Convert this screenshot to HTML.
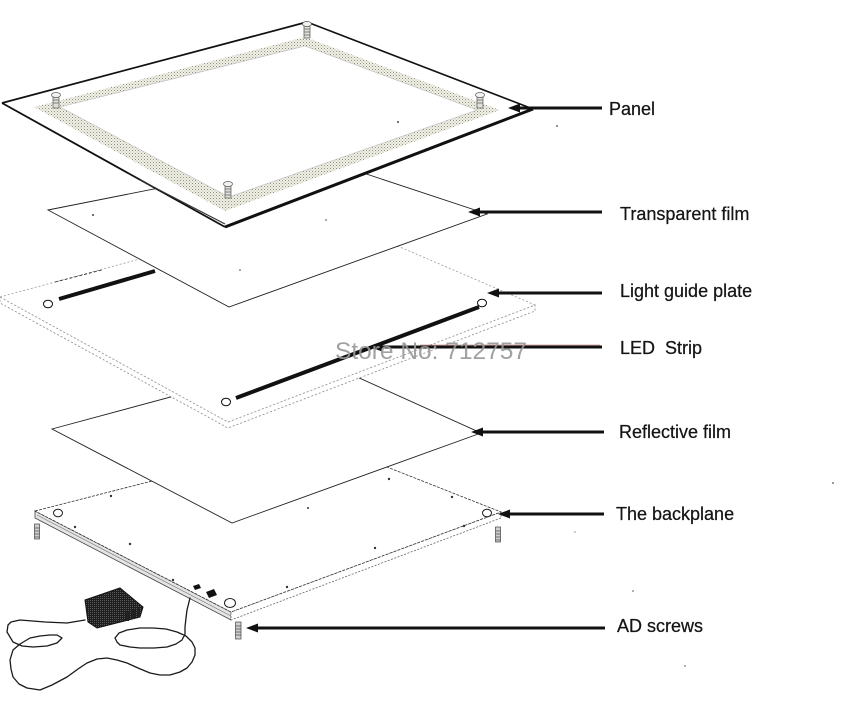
<!DOCTYPE html>
<html>
<head>
<meta charset="utf-8">
<style>
  html,body{margin:0;padding:0;background:#fff;}
  svg{display:block;}
  .lbl{font-family:"Liberation Sans",Arial,sans-serif;font-size:18px;fill:#151515;stroke:#151515;stroke-width:0.25;}
</style>
</head>
<body>
<svg width="864" height="702" viewBox="0 0 864 702" xmlns="http://www.w3.org/2000/svg">
  <defs>
    <pattern id="band" width="3" height="3" patternUnits="userSpaceOnUse">
      <rect width="3" height="3" fill="#f1f0e4"/>
      <rect x="0" y="0" width="1" height="1" fill="#8e8e86"/>
      <rect x="1.5" y="1.5" width="1" height="1" fill="#b4b4aa"/>
    </pattern>
    <pattern id="adp" width="2" height="2" patternUnits="userSpaceOnUse">
      <rect width="2" height="2" fill="#1e1e1e"/>
      <rect x="0" y="0" width="1" height="1" fill="#5a5a5a"/>
    </pattern>
  </defs>
  <rect width="864" height="702" fill="#fff"/>

  <!-- ===== Backplane ===== -->
  <polygon points="35,511 231,612 231,620 35,518" fill="#e4e4e4" stroke="#444" stroke-width="0.8"/>
  <line x1="37" y1="515" x2="231" y2="616" stroke="#777" stroke-width="0.6"/>
  <polygon points="231,612 501,512 501,518 231,620" fill="#fff" stroke="#666" stroke-width="0.8" stroke-dasharray="2,1.5"/>
  <polygon points="35,511 316,439 501,512 231,612" fill="#fff" stroke="#333" stroke-width="0.8" stroke-dasharray="3,1.2"/>
  <!-- holes -->
  <ellipse cx="58" cy="513" rx="4.5" ry="3.8" fill="#fff" stroke="#222" stroke-width="1"/>
  <ellipse cx="487" cy="513" rx="4.5" ry="3.8" fill="#fff" stroke="#222" stroke-width="1"/>
  <ellipse cx="230" cy="603" rx="5.5" ry="4.5" fill="#fff" stroke="#222" stroke-width="1"/>
  <!-- dots -->
  <g fill="#333">
    <circle cx="111" cy="496" r="1.2"/><circle cx="75" cy="527" r="1.2"/>
    <circle cx="130" cy="544" r="1.2"/><circle cx="173" cy="580" r="1.2"/>
    <circle cx="287" cy="587" r="1.2"/><circle cx="375" cy="548" r="1.2"/>
    <circle cx="464" cy="526" r="1.2"/><circle cx="452" cy="497" r="1.2"/>
    <circle cx="389" cy="479" r="1.2"/><circle cx="308" cy="508" r="1"/>
  </g>
  <!-- small switches -->
  <polygon points="193,586 199,584 201,588 195,590" fill="#111"/>
  <polygon points="206,592 214,589 217,595 209,598" fill="#111"/>
  <!-- screws under backplane -->
  <g stroke="#444" stroke-width="0.7" fill="#cfcfcf">
    <rect x="34.5" y="524" width="5" height="15"/>
    <line x1="34.5" y1="528" x2="39.5" y2="528"/><line x1="34.5" y1="531" x2="39.5" y2="531"/>
    <line x1="34.5" y1="534" x2="39.5" y2="534"/><line x1="34.5" y1="537" x2="39.5" y2="537"/>
    <rect x="495.5" y="527" width="5" height="15"/>
    <line x1="495.5" y1="531" x2="500.5" y2="531"/><line x1="495.5" y1="534" x2="500.5" y2="534"/>
    <line x1="495.5" y1="537" x2="500.5" y2="537"/><line x1="495.5" y1="540" x2="500.5" y2="540"/>
    <rect x="235.5" y="622" width="5.5" height="17"/>
    <line x1="235.5" y1="626" x2="241" y2="626"/><line x1="235.5" y1="629" x2="241" y2="629"/>
    <line x1="235.5" y1="632" x2="241" y2="632"/><line x1="235.5" y1="635" x2="241" y2="635"/>
  </g>

  <!-- adapter -->
  <polygon points="85,600 120,588 143,607 140,617 97,628 88,622" fill="url(#adp)" stroke="#111" stroke-width="1"/>
  <g fill="#222"><rect x="126" y="612" width="3" height="9"/><rect x="132" y="610" width="3" height="9"/><rect x="137" y="608" width="3" height="9"/></g>
  <!-- cable -->
  <polyline fill="none" stroke="#1a1a1a" stroke-width="1.3" stroke-linejoin="round" stroke-linecap="round"
    points="85,620 67,623 45,622 20,620 11,622 8,625 7,632 13,642 22,646 33,647 47,646 57,643 62,638 57,635 50,635 40,636 30,638 20,644 13,650 10,660 11,669 13,677 19,684 27,688 40,690 52,685 67,677 78,669 87,663 97,659 107,658 117,660 127,663 138,668 150,673 160,675 170,675 180,672 187,668 192,662 195,655 195,648 192,642 186,636 177,632 166,629 153,628 140,628 127,630 119,633 115,638 117,642 120,645 130,647 140,648 154,648 167,647 176,644 182,640 185,634 185,627 186,618 187,610 190,598"/>

  <!-- ===== Reflective film ===== -->
  <polygon points="52,429 315,358 481,433 232,523" fill="#fff" stroke="#222" stroke-width="0.9"/>

  <!-- ===== Light guide plate ===== -->
  <polygon points="0,297 228,422 535,305 535,311 228,428 0,303" fill="#fff" stroke="#888" stroke-width="0.8" stroke-dasharray="2,2"/>
  <polygon points="0,297 316,211 535,305 228,422" fill="#fff" stroke="#999" stroke-width="0.8" stroke-dasharray="2,2"/>
  <line x1="55" y1="282" x2="102" y2="270" stroke="#333" stroke-width="0.9" stroke-dasharray="3,2"/>
  <!-- LED strips -->
  <line x1="59" y1="299" x2="155" y2="271" stroke="#111" stroke-width="4"/>
  <line x1="236" y1="398" x2="479" y2="307" stroke="#111" stroke-width="4"/>
  <ellipse cx="48" cy="304" rx="4.5" ry="3.8" fill="#fff" stroke="#111" stroke-width="1"/>
  <ellipse cx="226" cy="402" rx="4.5" ry="3.8" fill="#fff" stroke="#111" stroke-width="1"/>
  <ellipse cx="482" cy="303" rx="4.5" ry="3.8" fill="#fff" stroke="#111" stroke-width="1"/>

  <!-- ===== Transparent film ===== -->
  <polygon points="48,210 315,157 487,214 229,307" fill="#fff" stroke="#222" stroke-width="0.9"/>
  <g fill="#444"><circle cx="93" cy="215" r="1"/><circle cx="240" cy="270" r="0.8"/><circle cx="326" cy="220" r="0.8"/></g>

  <!-- ===== Panel ===== -->
  <polygon points="2,103 307,22 533,109 225,227" fill="#fff"/>
  <polygon points="34,107 305,37 500,110 225,211" fill="url(#band)"/>
  <polygon points="60,107 305,46 477,110 229,197" fill="#fff" stroke="#bbb" stroke-width="0.6"/>
  <line x1="2" y1="103" x2="307" y2="22" stroke="#111" stroke-width="1.7"/>
  <line x1="307" y1="22" x2="533" y2="109" stroke="#111" stroke-width="1.6"/>
  <line x1="533" y1="109" x2="225" y2="227" stroke="#111" stroke-width="3"/>
  <line x1="2" y1="103" x2="225" y2="227" stroke="#111" stroke-width="1.8"/>
  <line x1="140" y1="180" x2="225" y2="224" stroke="#333" stroke-width="1.2"/>
  <g fill="#444"><circle cx="398" cy="122" r="1"/><circle cx="557" cy="126" r="0.9"/></g>
  <!-- panel screws -->
  <g stroke="#555" stroke-width="0.7">
    <rect x="304" y="24" width="6" height="14" fill="#e0e0da"/>
    <line x1="304" y1="29" x2="310" y2="29"/><line x1="304" y1="32" x2="310" y2="32"/><line x1="304" y1="35" x2="310" y2="35"/>
    <ellipse cx="307" cy="24" rx="4.5" ry="2.5" fill="#f2f2f2"/>
    <rect x="53" y="95" width="6" height="13" fill="#e0e0da"/>
    <line x1="53" y1="100" x2="59" y2="100"/><line x1="53" y1="103" x2="59" y2="103"/>
    <ellipse cx="56" cy="95" rx="4.5" ry="2.5" fill="#f2f2f2"/>
    <rect x="477" y="95" width="6" height="13" fill="#e0e0da"/>
    <line x1="477" y1="100" x2="483" y2="100"/><line x1="477" y1="103" x2="483" y2="103"/>
    <ellipse cx="480" cy="95" rx="4.5" ry="2.5" fill="#f2f2f2"/>
    <rect x="225" y="184" width="6" height="14" fill="#e0e0da"/>
    <line x1="225" y1="189" x2="231" y2="189"/><line x1="225" y1="192" x2="231" y2="192"/><line x1="225" y1="195" x2="231" y2="195"/>
    <ellipse cx="228" cy="184" rx="4.5" ry="2.5" fill="#f2f2f2"/>
  </g>

  <!-- ===== Arrows ===== -->
  <g stroke="#111" stroke-width="3">
    <line x1="516" y1="108" x2="602" y2="108"/>
    <line x1="476" y1="212" x2="602" y2="212"/>
    <line x1="495" y1="293" x2="602" y2="293"/>
    <line x1="378" y1="347" x2="602" y2="347"/>
    <line x1="479" y1="432" x2="604" y2="432"/>
    <line x1="506" y1="514" x2="604" y2="514"/>
    <line x1="254" y1="628" x2="605" y2="628"/>
  </g>
  <line x1="420" y1="345" x2="600" y2="345" stroke="#b04848" stroke-width="0.8" opacity="0.6"/>
  <g fill="#111">
    <polygon points="508,108 520,103.5 520,112.5"/>
    <polygon points="468,212 480,207.5 480,216.5"/>
    <polygon points="487,293 499,288.5 499,297.5"/>
    <polygon points="370,347 382,342.5 382,351.5"/>
    <polygon points="471,432 483,427.5 483,436.5"/>
    <polygon points="498,514 510,509.5 510,518.5"/>
    <polygon points="246,628 258,623.5 258,632.5"/>
  </g>

  <!-- watermark -->
  <text x="335" y="359" font-family="Liberation Sans, Arial, sans-serif" font-size="24.5" fill="#999" fill-opacity="0.92">Store No: 712757</text>

  <!-- labels -->
  <text class="lbl" x="609" y="115">Panel</text>
  <text class="lbl" x="620" y="220">Transparent film</text>
  <text class="lbl" x="620" y="297">Light guide plate</text>
  <text class="lbl" x="620" y="354" xml:space="preserve">LED  Strip</text>
  <text class="lbl" x="619" y="438">Reflective film</text>
  <text class="lbl" x="616" y="520">The backplane</text>
  <text class="lbl" x="617" y="632">AD screws</text>

  <!-- stray specks -->
  <g fill="#555"><circle cx="833" cy="483" r="0.9"/><circle cx="633" cy="591" r="0.8"/><circle cx="685" cy="666" r="0.8"/><circle cx="575" cy="532" r="0.6"/></g>
</svg>
</body>
</html>
